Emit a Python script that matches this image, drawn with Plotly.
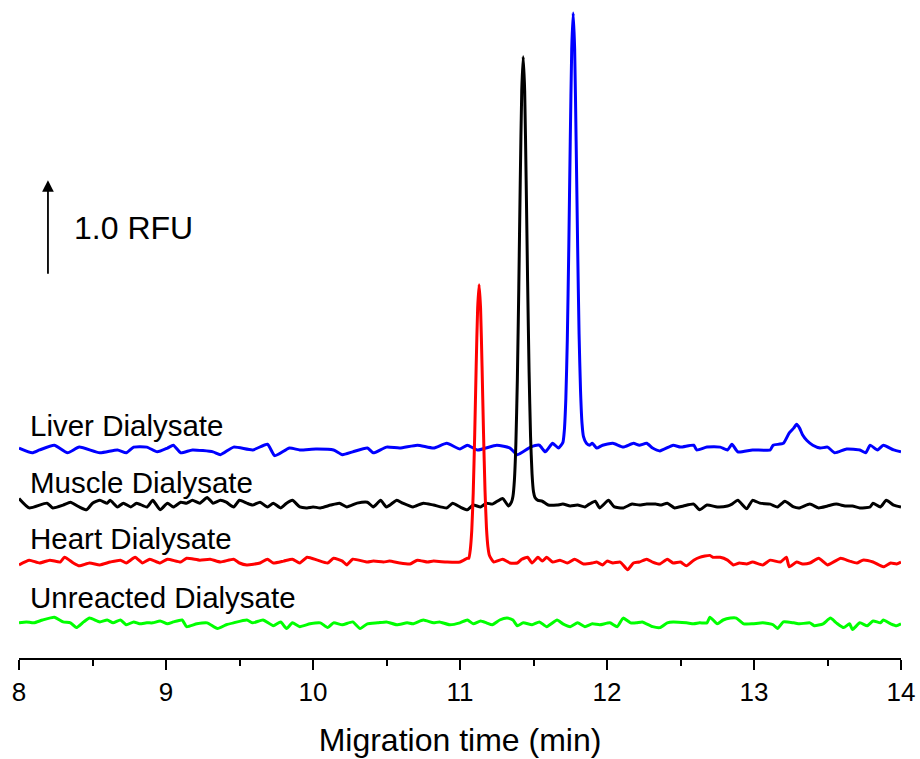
import plotly.graph_objects as go

# ---------------- data ----------------
# Migration time (min) and signal (units of 0.01 RFU, relative to each trace's own baseline)
liver_t = [8.00, 8.09, 8.14, 8.24, 8.33, 8.41, 8.55, 8.67, 8.73, 8.78,
           8.87, 8.94, 9.01, 9.05, 9.10, 9.18, 9.32, 9.37, 9.46, 9.59,
           9.69, 9.74, 9.84, 9.91, 10.02, 10.14, 10.20, 10.27, 10.37, 10.41,
           10.50, 10.59, 10.71, 10.82, 10.91, 11.00, 11.05, 11.12, 11.25, 11.34,
           11.39, 11.48, 11.54, 11.58, 11.63, 11.67,
           11.70, 11.71, 11.72, 11.73, 11.74, 11.75, 11.76, 11.77, 11.78, 11.79,
           11.80, 11.81, 11.82, 11.83, 11.84, 11.86,
           11.88, 11.90, 11.93, 11.97, 12.04, 12.11, 12.18, 12.22, 12.27, 12.31,
           12.36, 12.45, 12.50, 12.59, 12.61, 12.68, 12.77, 12.82, 12.85, 12.89,
           12.99, 13.11, 13.13, 13.20, 13.24, 13.27, 13.29, 13.31, 13.33, 13.36,
           13.40, 13.45, 13.50, 13.55, 13.63, 13.72, 13.76, 13.79, 13.84, 13.88,
           13.95, 14.00]
liver_s = [1, -4, -1, 4, -4, 2, -4, -1, -4, 2,
           2, -3, 1, 4, -4, -1, -3, -6, 2, -1,
           5, -7, 1, -1, 0, -1, -6, -3, 1, -4,
           2, 1, 4, 1, 6, 0, 4, -1, 4, 1,
           -6, 2, 4, -3, 6, 1,
           7, 20, 53, 115, 211, 324, 421, 459, 421, 324,
           216, 121, 61, 27, 13, 6,
           4, 6, 1, 4, 6, 2, 6, 4, 6, 1,
           -2, 4, 2, 4, -1, 2, 2, -1, 5, -3,
           -1, -1, 4, 6, 17, 22, 26, 22, 15, 9,
           4, 1, 2, -4, 0, -1, -4, 4, -1, 4,
           -1, -3]

muscle_t = [8.00, 8.07, 8.19, 8.23, 8.30, 8.35, 8.41, 8.46, 8.50, 8.55,
            8.60, 8.62, 8.67, 8.71, 8.76, 8.80, 8.87, 8.91, 8.96, 9.01,
            9.05, 9.10, 9.14, 9.18, 9.23, 9.28, 9.32, 9.37, 9.41, 9.46,
            9.50, 9.55, 9.59, 9.64, 9.69, 9.73, 9.78, 9.82, 9.86, 9.91,
            9.96, 10.00, 10.05, 10.12, 10.18, 10.23, 10.30, 10.37, 10.41, 10.46,
            10.50, 10.57, 10.61, 10.68, 10.75, 10.82, 10.91, 10.95, 11.00, 11.05,
            11.09, 11.14, 11.18, 11.22, 11.29, 11.33,
            11.35, 11.36, 11.37, 11.38, 11.39, 11.40, 11.41, 11.42, 11.43, 11.44,
            11.45, 11.46, 11.47, 11.48, 11.49, 11.50, 11.51, 11.53,
            11.56, 11.60, 11.66, 11.70, 11.75, 11.80, 11.85, 11.88, 11.92, 11.95,
            12.01, 12.05, 12.11, 12.17, 12.22, 12.27, 12.33, 12.37, 12.41, 12.46,
            12.52, 12.59, 12.63, 12.68, 12.75, 12.82, 12.85, 12.89, 12.95, 12.99,
            13.04, 13.11, 13.16, 13.21, 13.27, 13.31, 13.38, 13.44, 13.50, 13.56,
            13.62, 13.67, 13.72, 13.79, 13.81, 13.86, 13.90, 13.95, 14.00]
muscle_s = [7, -3, 2, -3, 0, 3, -2, -5, 2, 5,
            2, 5, -2, 2, -2, 2, -2, 5, -5, 2,
            -2, 3, 2, 5, 2, 8, 2, 5, 3, -2,
            5, 2, 0, 3, -2, 2, -3, 2, 5, -2,
            -3, -2, -3, 0, 2, -2, 2, 3, -2, 5,
            -2, 5, 2, -2, 2, 0, -3, 2, -2, -5,
            0, -2, 2, 1, 7, -1,
            3, 9, 26, 64, 131, 229, 342, 436, 472, 436,
            342, 235, 140, 72, 33, 14, 8, 5,
            4, 0, 0, 1, -1, 0, -2, 1, 4, -3,
            5, -2, -3, 1, 0, 1, 1, 0, 2, -3,
            -1, 1, -5, 0, -2, -1, 1, 5, -4, 5,
            2, 1, -2, 4, -2, -3, 1, -3, -1, 1,
            -1, -1, -3, -2, 2, -2, 5, 0, -2]

heart_t = [8.00, 8.07, 8.14, 8.21, 8.28, 8.31, 8.37, 8.41, 8.48, 8.55,
           8.62, 8.69, 8.73, 8.79, 8.84, 8.89, 8.96, 9.01, 9.10, 9.14,
           9.23, 9.30, 9.37, 9.46, 9.50, 9.55, 9.64, 9.69, 9.73, 9.80,
           9.86, 9.91, 9.96, 10.03, 10.10, 10.14, 10.20, 10.23, 10.27, 10.37,
           10.41, 10.48, 10.52, 10.59, 10.66, 10.71, 10.78, 10.82, 10.91, 11.00,
           11.05,
           11.06, 11.07, 11.08, 11.09, 11.10, 11.11, 11.12, 11.13, 11.14, 11.15,
           11.16, 11.17, 11.18, 11.19, 11.20, 11.21,
           11.23, 11.29, 11.34, 11.39, 11.42, 11.46, 11.49, 11.53, 11.56, 11.59,
           11.63, 11.68, 11.73, 11.78, 11.84, 11.90, 11.93, 11.97, 12.00, 12.04,
           12.09, 12.14, 12.18, 12.22, 12.27, 12.31, 12.36, 12.41, 12.45, 12.50,
           12.54, 12.59, 12.63, 12.70, 12.72, 12.77, 12.82, 12.86, 12.90, 12.95,
           12.99, 13.06, 13.11, 13.18, 13.22, 13.24, 13.29, 13.33, 13.38, 13.44,
           13.50, 13.59, 13.65, 13.70, 13.74, 13.81, 13.88, 13.93, 13.97, 14.00]
heart_s = [-3, 2, -1, 2, 0, 5, -1, -4, -1, -3,
           0, 2, -1, 5, -1, 3, -1, 3, 0, 4,
           2, 3, 0, 3, -1, -3, -1, 3, -1, 1,
           3, -1, 5, 2, -1, 4, 1, -3, 3, 0,
           1, 0, 1, -1, -2, 2, 0, 1, 0, 0,
           4,
           4, 13, 33, 73, 134, 206, 267, 292, 267, 206,
           136, 76, 36, 16, 7, 4,
           0, 3, -1, -1, 3, 5, -1, 5, 1, 5,
           0, 2, -1, 3, -2, -1, 0, -3, 1, -1,
           0, -8, -1, 0, 3, 0, -2, 3, -1, 0,
           -4, 2, 5, 7, 5, 5, 2, -3, -1, -2,
           0, -3, 2, 0, 5, -5, 0, -2, -1, 4,
           -3, 4, 1, -1, 2, 0, -5, -1, -2, 0]

unreacted_t = [8.00, 8.05, 8.10, 8.16, 8.24, 8.30, 8.35, 8.39, 8.44, 8.48,
               8.55, 8.60, 8.64, 8.69, 8.73, 8.78, 8.82, 8.87, 8.91, 8.96,
               9.01, 9.05, 9.11, 9.14, 9.21, 9.28, 9.35, 9.41, 9.46, 9.55,
               9.59, 9.66, 9.73, 9.78, 9.82, 9.86, 9.91, 9.98, 10.05, 10.10,
               10.14, 10.20, 10.27, 10.32, 10.37, 10.44, 10.50, 10.57, 10.64, 10.68,
               10.75, 10.82, 10.86, 10.93, 11.00, 11.05, 11.09, 11.14, 11.18, 11.22,
               11.27, 11.32, 11.36, 11.39, 11.43, 11.49, 11.54, 11.59, 11.66, 11.70,
               11.75, 11.80, 11.85, 11.90, 11.95, 12.02, 12.07, 12.11, 12.16, 12.20,
               12.24, 12.31, 12.36, 12.41, 12.45, 12.54, 12.59, 12.63, 12.68, 12.70,
               12.75, 12.79, 12.84, 12.88, 12.93, 12.99, 13.06, 13.13, 13.16, 13.20,
               13.27, 13.31, 13.38, 13.41, 13.47, 13.52, 13.56, 13.61, 13.65, 13.67,
               13.72, 13.77, 13.81, 13.86, 13.88, 13.93, 13.97, 14.00]
unreacted_s = [1, 2, 1, 4, 7, 2, 1, -4, 2, 6,
               2, 4, 1, 4, -1, 2, 0, 1, 1, 3,
               0, 2, 4, -3, 0, 1, -5, -1, 1, 4,
               1, 4, -2, 2, -5, 1, -3, 0, 1, -4,
               1, -1, 2, -5, 0, 1, 2, -1, 1, 0,
               4, 1, 2, -1, 1, 4, 0, 3, 1, -1,
               4, 6, 4, -2, 1, -1, 2, -3, 4, 0,
               -3, 1, -3, 0, -1, 1, -3, 6, 1, 1,
               2, -3, -4, 1, 2, 1, 0, 1, 1, 7,
               0, 4, 6, 6, 0, 0, 1, -1, -5, 2,
               1, 0, 1, -2, 0, 6, 1, -4, 0, -6,
               1, -2, 3, 1, 4, 0, -2, 0]

trace_names = ["Liver Dialysate", "Muscle Dialysate", "Heart Dialysate", "Unreacted Dialysate"]
trace_colors = ["#0000FF", "#000000", "#FF0000", "#00FF00"]
trace_times = [liver_t, muscle_t, heart_t, unreacted_t]
trace_signals = [liver_s, muscle_s, heart_s, unreacted_s]
trace_offsets = [2.20, 1.61, 1.01, 0.36]       # vertical stacking offsets (RFU)
label_y = [2.45, 1.85, 1.26, 0.64]              # label heights (RFU)

x_ticks = [8, 9, 10, 11, 12, 13, 14]
scale_bar_rfu = 1.0
scale_bar_base = 4.03

# ---------------- figure ----------------
fig = go.Figure()
for name, col, t, s, off in zip(trace_names, trace_colors, trace_times, trace_signals, trace_offsets):
    fig.add_trace(go.Scatter(
        x=t, y=[off + v / 100.0 for v in s], mode="lines", name=name,
        line=dict(color=col, width=3, shape="spline", smoothing=0.5), hoverinfo="skip"))

FONT = "Liberation Sans, Arial, sans-serif"
annotations = []
for name, yl in zip(trace_names, label_y):
    annotations.append(dict(x=8.061, y=yl, xref="x", yref="y", text=name, showarrow=False,
                            xanchor="left", yanchor="middle",
                            font=dict(family=FONT, size=29.5, color="black")))
annotations.append(dict(x=8.197, y=scale_bar_base + scale_bar_rfu, ax=8.197, ay=scale_bar_base,
                        xref="x", yref="y", axref="x", ayref="y", text="", showarrow=True,
                        arrowhead=2, arrowsize=1.3, arrowwidth=1.8, arrowcolor="black"))
annotations.append(dict(x=8.36, y=scale_bar_base + scale_bar_rfu / 2, xref="x", yref="y",
                        text=f"{scale_bar_rfu:.1f} RFU", showarrow=False,
                        xanchor="left", yanchor="middle",
                        font=dict(family=FONT, size=32, color="black")))

fig.update_layout(
    width=920, height=759,
    margin=dict(l=19, r=19, t=5, b=101),
    plot_bgcolor="white", paper_bgcolor="white",
    showlegend=False,
    font=dict(family=FONT, color="black"),
    annotations=annotations,
    xaxis=dict(range=[8, 14], tickvals=x_ticks, ticktext=[str(v) for v in x_ticks],
               showline=True, linecolor="black", linewidth=2,
               ticks="outside", ticklen=10, tickwidth=2, tickcolor="black",
               tickfont=dict(size=26, family=FONT, color="black"),
               minor=dict(dtick=0.5, ticks="outside", ticklen=6, tickwidth=2, tickcolor="black"),
               showgrid=False, zeroline=False, automargin=False,
               title=dict(text="Migration time (min)", font=dict(size=32, family=FONT, color="black"),
                          standoff=22)),
    yaxis=dict(range=[0, 6.874], visible=False, showgrid=False, zeroline=False),
)

fig.write_html("out.html")
